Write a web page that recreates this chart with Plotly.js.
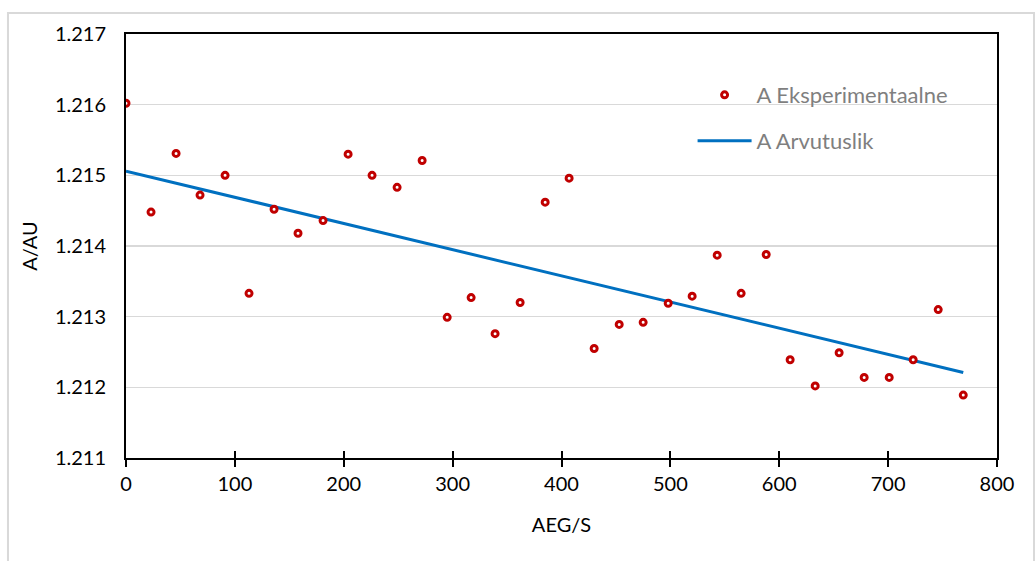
<!DOCTYPE html>
<html>
<head>
<meta charset="utf-8">
<script src="https://cdn.plot.ly/plotly-3.0.1.min.js"></script>
<style>html,body{margin:0;padding:0;background:#fff}#chart{width:1035px;height:561px}</style>
</head>
<body>
<div id="chart"></div>
<script>
// Experimental data (AEG/S vs A/AU)
const expX = [0, 23, 46, 68, 91, 113, 136, 158, 181, 204, 226, 249, 272, 295, 317, 339, 362, 385, 407, 430, 453, 475, 498, 520, 543, 565, 588, 610, 633, 655, 678, 701, 723, 746, 769];
const expY = [1.21602, 1.21448, 1.21531, 1.21472, 1.21500, 1.21333, 1.21452, 1.21418, 1.21436, 1.21530,
              1.21500, 1.21483, 1.21521, 1.21299, 1.21327, 1.21276, 1.21320, 1.21462, 1.21496, 1.21255,
              1.21289, 1.21292, 1.21319, 1.21329, 1.21387, 1.21333, 1.21388, 1.21239, 1.21202, 1.21249,
              1.21214, 1.21214, 1.21239, 1.21310, 1.21189];
// Calculated (fitted) line
const calcX = [0, 769];
const calcY = [1.21506, 1.21221];
const xTicks = [0, 100, 200, 300, 400, 500, 600, 700, 800];
const yTicks = [1.211, 1.212, 1.213, 1.214, 1.215, 1.216, 1.217];
const names = ['A Eksperimentaalne', 'A Arvutuslik'];

const font = 'Lato, "Open Sans", sans-serif';

const traces = [
  {x: calcX, y: calcY, type: 'scatter', mode: 'lines', name: names[1],
   line: {color: '#0070C0', width: 3}, legend: 'legend2'},
  {x: expX, y: expY, type: 'scatter', mode: 'markers', name: names[0],
   marker: {symbol: 'circle', size: 6, color: '#ffffff', line: {color: '#C00000', width: 3}},
   legend: 'legend'},
  {x: [0], y: [null], xaxis: 'x2', yaxis: 'y', showlegend: false, hoverinfo: 'skip', type: 'scatter'}
];

const layout = {
  width: 1035, height: 561,
  margin: {l: 126, r: 38, t: 34, b: 103},
  paper_bgcolor: '#ffffff', plot_bgcolor: '#ffffff',
  font: {family: font, size: 20, color: '#000000'},
  showlegend: true,
  xaxis: {
    range: [0, 800], tickvals: xTicks, ticktext: xTicks.map(String),
    showgrid: false, zeroline: false,
    showline: true, linecolor: '#000000', linewidth: 2, mirror: true,
    ticks: 'outside', ticklen: 7, tickwidth: 2, tickcolor: '#000000',
    tickfont: {family: font, size: 20, color: '#000000'},
    title: {text: 'AEG/S', font: {family: font, size: 20, color: '#000000'}, standoff: 24}
  },
  xaxis2: {
    overlaying: 'x', matches: 'x', range: [0, 800], tickvals: xTicks,
    showticklabels: false, showgrid: false, zeroline: false, showline: false,
    ticks: 'inside', ticklen: 7, tickwidth: 2, tickcolor: '#000000', side: 'bottom'
  },
  yaxis: {
    range: [1.211, 1.217], tickvals: yTicks, ticktext: yTicks.map(v => v.toFixed(3)),
    showgrid: true, gridcolor: '#d9d9d9', gridwidth: 1.5, zeroline: false,
    showline: true, linecolor: '#000000', linewidth: 2, mirror: true,
    ticks: '', ticklabelstandoff: 14,
    tickfont: {family: font, size: 20, color: '#000000'},
    title: {text: 'A/AU', font: {family: font, size: 20, color: '#000000'}, standoff: 12}
  },
  legend: {
    x: 0.6505, y: 0.856, xanchor: 'left', yanchor: 'middle',
    bgcolor: 'rgba(0,0,0,0)', itemwidth: 54,
    font: {family: font, size: 22, color: '#7f7f7f'}
  },
  legend2: {
    x: 0.6505, y: 0.748, xanchor: 'left', yanchor: 'middle',
    bgcolor: 'rgba(0,0,0,0)', itemwidth: 54,
    font: {family: font, size: 22, color: '#7f7f7f'}
  },
  shapes: [{
    type: 'rect', xref: 'paper', yref: 'paper', layer: 'below',
    x0: -0.1355, x1: 1.0425, y0: -0.26, y1: 1.0495,
    line: {color: '#d9d9d9', width: 2}, fillcolor: 'rgba(0,0,0,0)'
  }]
};

Plotly.newPlot('chart', traces, layout, {displayModeBar: false, staticPlot: true});
</script>
</body>
</html>
